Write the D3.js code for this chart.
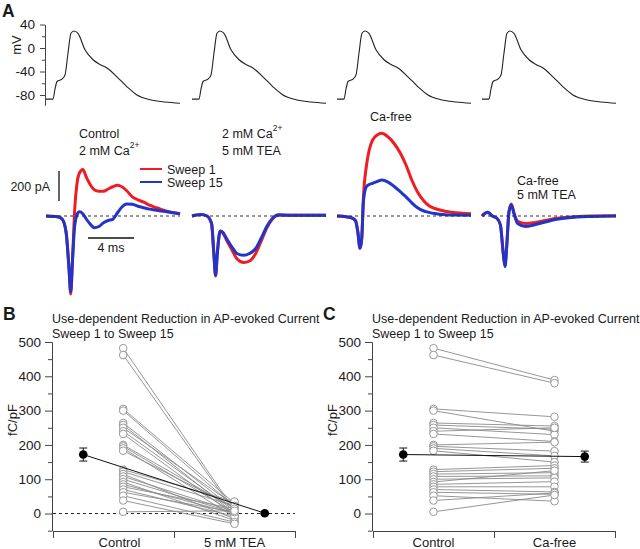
<!DOCTYPE html>
<html><head><meta charset="utf-8">
<script src="https://cdn.jsdelivr.net/npm/d3@7"></script>
<style>
body{margin:0;background:#fff}
svg{display:block}
text{font-family:"Liberation Sans",Arial,sans-serif;fill:#1a1a1a}
</style>
</head><body>
<svg id="c" width="640" height="549"></svg>
<script>
// ---------------- DATA ----------------
// Panel A: action potential waveform (time in ms, voltage in mV)
const apTimeMs    = [0, 0.61, 0.78, 0.96, 1.39, 1.65, 1.91, 2.17, 2.43, 2.78, 3.39, 4.09, 4.7, 5.3, 6.17, 7.04, 7.91, 9.04, 10.35, 11.65];
const apVoltageMv = [-87, -87, -70, -57, -53, -46, -9, 25, 29, 25, -3, -20, -28, -34, -49, -66, -80, -88, -92, -94];
const voltageTicks = [40, 0, -40, -80];
const voltageMinorTicks = [20, -20, -60];

// Panel A: AP-evoked currents (pA) for sweep 1 and sweep 15
const sweepNames = ["Sweep 1", "Sweep 15"];
const ctrlTime    = [0, 1.0, 1.4, 1.75, 2.0, 2.15, 2.3, 2.5, 2.7, 2.9, 3.2, 3.5, 3.8, 4.2, 4.6, 5.0, 5.4, 5.8, 6.2, 6.6, 7.0, 7.5, 8.0, 8.5, 9.0, 9.5, 10.0, 10.5, 11.0, 11.65];
const ctrlSweep1  = [0, -5, -20, -110, -350, -520, -300, 50, 220, 285, 310, 260, 215, 175, 165, 165, 180, 195, 205, 195, 170, 128, 108, 92, 72, 58, 44, 32, 24, 15];
const ctrlSweep15 = [0, -5, -20, -110, -350, -505, -300, -60, 10, 28, 15, -20, -50, -78, -70, -45, -30, -22, 20, 60, 80, 78, 65, 55, 46, 40, 34, 28, 22, 15];

const teaTime    = [0, 0.8, 1.3, 1.7, 1.9, 2.05, 2.2, 2.45, 2.7, 3.0, 3.5, 3.9, 4.5, 5.0, 5.5, 6.0, 6.5, 7.0, 7.5, 8.5, 10.0, 11.65];
const teaSweep1  = [0, 10, 0, -50, -250, -400, -250, -100, -115, -160, -230, -285, -310, -300, -255, -170, -80, -20, 5, 5, 5, 5];
const teaSweep15 = [0, 10, 0, -50, -250, -395, -250, -100, -110, -150, -210, -250, -262, -250, -220, -150, -70, -15, 8, 5, 5, 5];

const caFreeTime    = [0, 0.8, 1.2, 1.6, 1.8, 2.0, 2.15, 2.3, 2.55, 2.8, 3.1, 3.5, 3.9, 4.4, 5.0, 5.5, 6.0, 6.5, 7.0, 7.5, 8.0, 8.5, 9.2, 10.0, 11.65];
const caFreeSweep1  = [0, -5, -10, -30, -100, -215, -150, 130, 330, 440, 507, 540, 551, 530, 480, 420, 340, 240, 160, 105, 68, 50, 35, 25, 15];
const caFreeSweep15 = [0, -5, -10, -30, -100, -215, -150, 100, 195, 210, 218, 230, 240, 228, 195, 162, 128, 88, 55, 35, 24, 16, 10, 6, 5];

const caTeaTime    = [0, 0.5, 0.9, 1.3, 1.6, 1.85, 2.0, 2.15, 2.35, 2.55, 2.8, 3.1, 3.8, 4.5, 5.5, 6.5, 8.0, 9.5, 11.65];
const caTeaSweep1  = [0, 25, 0, -15, -60, -250, -330, -200, 30, 80, 15, -35, -50, -45, -30, -15, -5, 0, 2];
const caTeaSweep15 = [0, 25, 0, -15, -60, -250, -338, -200, 30, 73, 10, -50, -70, -60, -40, -22, -8, -3, 0];

// Panels B and C: charge density (fC/pF)
const chargeTicks = [0, 100, 200, 300, 400, 500];
const chargeMinorTicks = [-50, 50, 150, 250, 350, 450];
const panelTitle = ["Use-dependent Reduction in AP-evoked Current", "Sweep 1 to Sweep 15"];
const groupsB = ["Control", "5 mM TEA"];
const groupsC = ["Control", "Ca-free"];
const chargeControl = [482, 462, 305, 300, 264, 258, 250, 240, 232, 200, 196, 190, 183, 128, 122, 115, 108, 100, 92, 85, 78, 70, 62, 52, 38, 5];
const chargeTEA     = [10, 5, 30, 20, 12, 0, 25, 8, -5, 15, 3, -10, 18, 35, 22, -15, 6, 2, -20, 0, 14, -8, 4, -25, -30, 8];
const chargeCaFree  = [389, 380, 282, 240, 255, 246, 230, 250, 210, 208, 182, 168, 150, 140, 132, 119, 110, 104, 125, 93, 78, 63, 56, 36, 60, 54];
const meanB = [172, 1];   // mean Control, mean TEA
const semB  = [19, 3];
const meanC = [172, 166]; // mean Control, mean Ca-free
const semC  = [19, 16];

// ---------------- DRAWING ----------------
const svg = d3.select("#c");
const RED = "#ee1d23", BLUE = "#2135c9";

function panelLetter(x, y, s) {
  svg.append("text").attr("x", x).attr("y", y).attr("font-size", 17.5)
     .attr("font-weight", "bold").text(s);
}

// ===== Panel A =====
panelLetter(2, 17, "A");
const traceX0 = [46, 192, 337, 482];
const tX = d3.scaleLinear().domain([0, 11.65]).range([0, 134]);
const vY = d3.scaleLinear().domain([-97, 40]).range([105, 24.5]);

const gV = svg.append("g").attr("transform", "translate(45,0)");
gV.call(d3.axisLeft(vY).tickValues(voltageTicks).tickSize(5).tickPadding(5)
        .tickSizeOuter(0).tickFormat(d => String(d)));
gV.append("g").call(d3.axisLeft(vY).tickValues(voltageMinorTicks).tickSize(3)
        .tickSizeOuter(0).tickFormat(""));
gV.selectAll("path,line").attr("stroke", "#444");
gV.selectAll("text").attr("font-size", 13.5).attr("fill", "#1a1a1a")
   .attr("font-family", "Liberation Sans, Arial, sans-serif");
svg.append("text").attr("transform", "translate(21,45) rotate(-90)")
   .attr("text-anchor", "middle").attr("font-size", 13).text("mV");

const apData = apTimeMs.map((t, i) => [t, apVoltageMv[i]]);
traceX0.forEach(x0 => {
  svg.append("path").datum(apData)
    .attr("fill", "none").attr("stroke", "#222").attr("stroke-width", 1.1)
    .attr("d", d3.line().x(d => x0 + tX(d[0])).y(d => vY(d[1])).curve(d3.curveMonotoneX));
});

// currents
const iY = d3.scaleLinear().domain([0, 200]).range([216, 186]);
const currentSets = [
  [ctrlTime, ctrlSweep1, ctrlSweep15],
  [teaTime, teaSweep1, teaSweep15],
  [caFreeTime, caFreeSweep1, caFreeSweep15],
  [caTeaTime, caTeaSweep1, caTeaSweep15]
];
currentSets.forEach((set, k) => {
  const x0 = traceX0[k];
  const line = d3.line().x(d => x0 + tX(d[0])).y(d => iY(d[1])).curve(d3.curveMonotoneX);
  const s1 = set[0].map((t, i) => [t, set[1][i]]);
  const s15 = set[0].map((t, i) => [t, set[2][i]]);
  svg.append("path").datum(s1).attr("fill", "none").attr("stroke", RED)
     .attr("stroke-width", 3).attr("stroke-linejoin", "round").attr("d", line);
  svg.append("path").datum(s15).attr("fill", "none").attr("stroke", BLUE)
     .attr("stroke-width", 3).attr("stroke-linejoin", "round").attr("d", line);
  svg.append("line").attr("x1", x0 + tX(0)).attr("x2", x0 + tX(11.65))
     .attr("y1", iY(0)).attr("y2", iY(0))
     .attr("stroke", "#333").attr("stroke-width", 1).attr("stroke-dasharray", "3,3");
});

// scale bars
svg.append("line").attr("x1", 59).attr("x2", 59).attr("y1", iY(100)).attr("y2", iY(300))
   .attr("stroke", "#111").attr("stroke-width", 1.3);
svg.append("text").attr("x", 50).attr("y", 191).attr("text-anchor", "end")
   .attr("font-size", 12.5).text("200 pA");
svg.append("line").attr("x1", traceX0[0] + tX(3.65)).attr("x2", traceX0[0] + tX(7.65))
   .attr("y1", 238).attr("y2", 238).attr("stroke", "#111").attr("stroke-width", 1.3);
svg.append("text").attr("x", traceX0[0] + tX(5.65)).attr("y", 252).attr("text-anchor", "middle")
   .attr("font-size", 12.5).text("4 ms");

// condition labels
function caLabel(x, y) {
  const t = svg.append("text").attr("x", x).attr("y", y).attr("font-size", 12.5);
  t.append("tspan").text("2 mM Ca");
  t.append("tspan").attr("font-size", 8.5).attr("dy", -7).text("2+");
}
svg.append("text").attr("x", 79).attr("y", 138).attr("font-size", 12.5).text("Control");
caLabel(79, 155);
caLabel(222, 138);
svg.append("text").attr("x", 222).attr("y", 155).attr("font-size", 12.5).text("5 mM TEA");
svg.append("text").attr("x", 370).attr("y", 121).attr("font-size", 12.5).text("Ca-free");
svg.append("text").attr("x", 517).attr("y", 185).attr("font-size", 12.5).text("Ca-free");
svg.append("text").attr("x", 517).attr("y", 199).attr("font-size", 12.5).text("5 mM TEA");

// legend
[[RED, 169], [BLUE, 182]].forEach((d, i) => {
  svg.append("line").attr("x1", 140).attr("x2", 162).attr("y1", d[1]).attr("y2", d[1])
     .attr("stroke", d[0]).attr("stroke-width", 2);
  svg.append("text").attr("x", 167).attr("y", d[1] + 4.5).attr("font-size", 12.5).text(sweepNames[i]);
});

// ===== Panels B & C =====
const yQ = d3.scaleLinear().domain([-50, 500]).range([530.7, 342]);

function scatterPanel(ox, letter, groups, after, means, sems, ctrlPos, labelPos, zeroLine) {
  panelLetter(ox + 3, 320, letter);
  svg.append("text").attr("x", ox + 52).attr("y", 323).attr("font-size", 12.5).text(panelTitle[0]);
  svg.append("text").attr("x", ox + 52).attr("y", 338).attr("font-size", 12.5).text(panelTitle[1]);

  const gy = svg.append("g").attr("transform", `translate(${ox + 52},0)`);
  gy.call(d3.axisLeft(yQ).tickValues(chargeTicks).tickSize(7).tickPadding(4).tickSizeOuter(0));
  gy.append("g").call(d3.axisLeft(yQ).tickValues(chargeMinorTicks).tickSize(4).tickSizeOuter(0).tickFormat(""));
  gy.selectAll("path,line").attr("stroke", "#444");
  gy.selectAll("text").attr("font-size", 13.5).attr("fill", "#1a1a1a")
    .attr("font-family", "Liberation Sans, Arial, sans-serif");

  const xS = d3.scaleLinear().domain([0, 2]).range([ox + 53, ox + 295]);
  const gx = svg.append("g").attr("transform", "translate(0,531)");
  gx.call(d3.axisBottom(xS).tickValues([0, 1, 2]).tickSize(7).tickSizeOuter(0).tickFormat(""));
  gx.selectAll("path,line").attr("stroke", "#444");
  groups.forEach((g, i) => {
    svg.append("text").attr("x", xS(labelPos[i])).attr("y", 547).attr("text-anchor", "middle")
       .attr("font-size", 13).text(g);
  });

  svg.append("text").attr("transform", `translate(${ox + 17},420) rotate(-90)`)
     .attr("text-anchor", "middle").attr("font-size", 13).text("fC/pF");

  if (zeroLine) {
    svg.append("line").attr("x1", xS(0)).attr("x2", xS(2)).attr("y1", yQ(0)).attr("y2", yQ(0))
       .attr("stroke", "#222").attr("stroke-width", 1).attr("stroke-dasharray", "3,3");
  }

  const xa = xS(ctrlPos), xb = xS(1.5);
  chargeControl.forEach((v, i) => {
    svg.append("line").attr("x1", xa).attr("x2", xb).attr("y1", yQ(v)).attr("y2", yQ(after[i]))
       .attr("stroke", "#8a8a8a").attr("stroke-width", 0.9);
  });
  chargeControl.forEach(v => {
    svg.append("circle").attr("cx", xa).attr("cy", yQ(v)).attr("r", 3.8)
       .attr("fill", "#fff").attr("stroke", "#999").attr("stroke-width", 1);
  });
  after.forEach(v => {
    svg.append("circle").attr("cx", xb).attr("cy", yQ(v)).attr("r", 3.8)
       .attr("fill", "#fff").attr("stroke", "#999").attr("stroke-width", 1);
  });

  const mx = [xS(0.25), xS(1.75)];
  svg.append("line").attr("x1", mx[0]).attr("x2", mx[1]).attr("y1", yQ(means[0])).attr("y2", yQ(means[1]))
     .attr("stroke", "#111").attr("stroke-width", 1);
  means.forEach((m, i) => {
    const g = svg.append("g").attr("stroke", "#111").attr("stroke-width", 1);
    g.append("line").attr("x1", mx[i]).attr("x2", mx[i]).attr("y1", yQ(m - sems[i])).attr("y2", yQ(m + sems[i]));
    g.append("line").attr("x1", mx[i] - 4).attr("x2", mx[i] + 4).attr("y1", yQ(m - sems[i])).attr("y2", yQ(m - sems[i]));
    g.append("line").attr("x1", mx[i] - 4).attr("x2", mx[i] + 4).attr("y1", yQ(m + sems[i])).attr("y2", yQ(m + sems[i]));
    svg.append("circle").attr("cx", mx[i]).attr("cy", yQ(m)).attr("r", 4.3).attr("fill", "#000");
  });
}

scatterPanel(0, "B", groupsB, chargeTEA, meanB, semB, 0.58, [0.55, 1.5], true);
scatterPanel(320, "C", groupsC, chargeCaFree, meanC, semC, 0.5, [0.5, 1.5], false);
</script>
</body></html>
